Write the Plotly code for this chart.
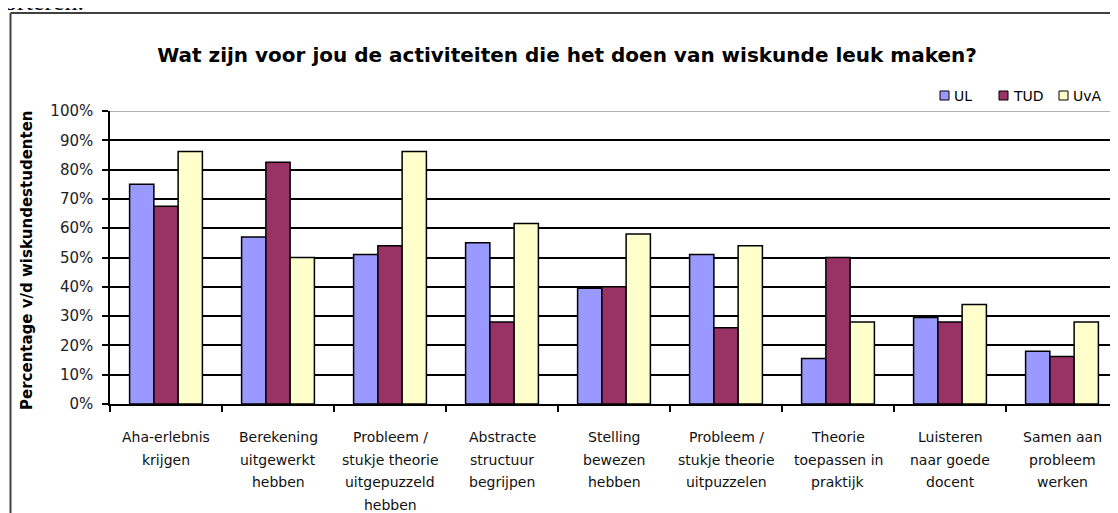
import plotly.graph_objects as go

# ---------------- data ----------------
categories = [
    "Aha-erlebnis krijgen",
    "Berekening uitgewerkt hebben",
    "Probleem / stukje theorie uitgepuzzeld hebben",
    "Abstracte structuur begrijpen",
    "Stelling bewezen hebben",
    "Probleem / stukje theorie uitpuzzelen",
    "Theorie toepassen in praktijk",
    "Luisteren naar goede docent",
    "Samen aan probleem werken",
]
category_lines = [
    ["Aha-erlebnis", "krijgen"],
    ["Berekening", "uitgewerkt", "hebben"],
    ["Probleem /", "stukje theorie", "uitgepuzzeld", "hebben"],
    ["Abstracte", "structuur", "begrijpen"],
    ["Stelling", "bewezen", "hebben"],
    ["Probleem /", "stukje theorie", "uitpuzzelen"],
    ["Theorie", "toepassen in", "praktijk"],
    ["Luisteren", "naar goede", "docent"],
    ["Samen aan", "probleem", "werken"],
]
ul = [0.75, 0.57, 0.51, 0.55, 0.395, 0.51, 0.155, 0.295, 0.18]
tud = [0.675, 0.825, 0.54, 0.28, 0.40, 0.26, 0.50, 0.28, 0.162]
uva = [0.862, 0.50, 0.862, 0.616, 0.58, 0.54, 0.28, 0.34, 0.28]
series_names = ["UL", "TUD", "UvA"]
series_values = [ul, tud, uva]
series_colors = ["#9999FF", "#993366", "#FFFFCC"]
y_ticks = [i / 10 for i in range(11)]

title_text = "Wat zijn voor jou de activiteiten die het doen van wiskunde leuk maken?"
y_title = "Percentage v/d wiskundestudenten"
top_fragment = "orteren."

FONT = "DejaVu Sans"

# ---------------- layout geometry ----------------
# targets are in browser-window pixels; the page body adds an 8px offset
OFF = 8
W, H = 1118, 513
PLOT_X0, PLOT_X1, PLOT_Y0, PLOT_Y1 = 110, 1118, 111, 404   # window pixels
L, T = PLOT_X0 - OFF, PLOT_Y0 - OFF
R, B = W - (PLOT_X1 - OFF), H - (PLOT_Y1 - OFF)
PW, PH = PLOT_X1 - PLOT_X0, PLOT_Y1 - PLOT_Y0


def px_x(px):
    return (px - PLOT_X0) / PW


def px_y(py):
    return (PLOT_Y1 - py) / PH


fig = go.Figure()
for name, vals, col in zip(series_names, series_values, series_colors):
    fig.add_trace(go.Bar(
        x=categories, y=vals, name=name, showlegend=False,
        marker=dict(color=col, line=dict(color="black", width=1.5)),
    ))

annotations = []
# multi-line category labels
for cat, lines in zip(categories, category_lines):
    for i, line in enumerate(lines):
        annotations.append(dict(
            x=cat, y=0, xref="x", yref="paper", text=line, showarrow=False,
            xanchor="center", yanchor="middle", yshift=-33 - 22.5 * i,
            font=dict(family=FONT, size=14, color="#111"),
        ))
# y-axis title
annotations.append(dict(
    x=px_x(27), y=px_y(260), xref="paper", yref="paper", text="<b>" + y_title + "</b>",
    showarrow=False, textangle=-90, xanchor="center", yanchor="middle",
    font=dict(family=FONT, size=15, color="black"),
))
# fragment of the surrounding document text, cut off at the top
annotations.append(dict(
    x=px_x(86), y=px_y(18), xref="paper", yref="paper", text=top_fragment,
    showarrow=False, xanchor="right", yanchor="bottom",
    font=dict(family="Liberation Serif", size=26, color="black"),
))

shapes = [
    # outer chart frame (left and top edges visible)
    dict(type="line", xref="paper", yref="paper", x0=px_x(10.5), x1=px_x(10.5),
         y0=px_y(540), y1=px_y(13), line=dict(color="#404040", width=2)),
    dict(type="line", xref="paper", yref="paper", x0=px_x(10.5), x1=px_x(1140),
         y0=px_y(13), y1=px_y(13), line=dict(color="#404040", width=2)),
    # plot area top border in grey
    dict(type="line", xref="paper", yref="y", x0=0, x1=1, y0=1, y1=1,
         line=dict(color="#999999", width=1.5), layer="above"),
]

# compact legend (Excel style)
legend_square_px = [940, 999, 1059]
for name, col, sx in zip(series_names, series_colors, legend_square_px):
    shapes.append(dict(type="rect", xref="paper", yref="paper",
                       x0=px_x(sx), x1=px_x(sx + 9), y0=px_y(100), y1=px_y(91),
                       fillcolor=col, line=dict(color="black", width=1)))
    annotations.append(dict(
        x=px_x(sx + 12), y=px_y(96), xref="paper", yref="paper", text=name,
        showarrow=False, xanchor="left", yanchor="middle",
        font=dict(family=FONT, size=14, color="black"),
    ))

fig.update_layout(
    width=W, height=H,
    margin=dict(l=L, r=R, t=T, b=B, autoexpand=False),
    paper_bgcolor="white", plot_bgcolor="white",
    barmode="group", bargap=0.35, bargroupgap=0,
    showlegend=False,
    title=dict(text="<b>" + title_text + "</b>", x=(567 - OFF) / W, xref="container",
               xanchor="center", y=1 - (56 - OFF - 1) / H, yref="container",
               yanchor="middle", font=dict(family=FONT, size=20, color="black")),
    annotations=annotations,
    shapes=shapes,
    xaxis=dict(
        type="category", showticklabels=False, showline=True, linecolor="black",
        linewidth=1.5, ticks="outside", tickson="boundaries", ticklen=6,
        tickcolor="black", tickwidth=1.5, showgrid=False, zeroline=False,
    ),
    yaxis=dict(
        range=[0, 1], tickvals=y_ticks, tickformat=".0%", showline=True,
        linecolor="black", linewidth=1.5, ticks="outside", ticklen=6,
        tickcolor="black", tickwidth=1.5, showgrid=True, gridcolor="black",
        gridwidth=1.5, zeroline=False, ticklabelstandoff=6,
        tickfont=dict(family=FONT, size=15, color="#222"),
    ),
)

fig.write_html("out.html")
